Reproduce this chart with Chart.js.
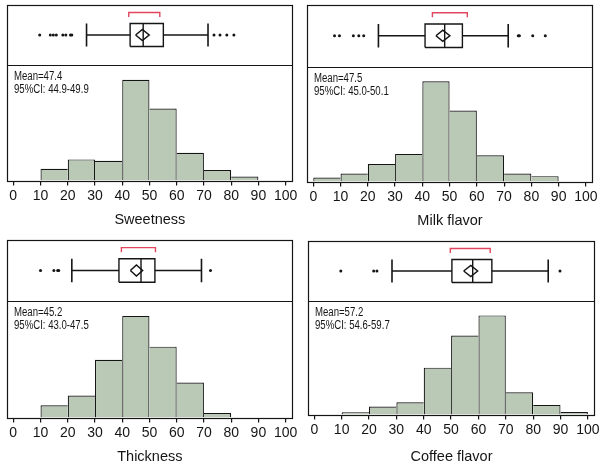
<!DOCTYPE html>
<html>
<head>
<meta charset="utf-8">
<script src="https://cdn.jsdelivr.net/npm/chart.js"></script>
<style>
  body { margin: 0; background: #fff; }
  .panel { position: absolute; }
</style>
</head>
<body>
<div class="panel" style="left:0;top:0"><canvas id="c0" width="300" height="230"></canvas></div>
<div class="panel" style="left:300px;top:0"><canvas id="c1" width="304" height="230"></canvas></div>
<div class="panel" style="left:0;top:230px"><canvas id="c2" width="300" height="237"></canvas></div>
<div class="panel" style="left:300px;top:230px"><canvas id="c3" width="304" height="237"></canvas></div>

<script>
  // histogram bins (lower edges, width 10) and x tick labels
  const binEdges = [0, 10, 20, 30, 40, 50, 60, 70, 80, 90];
  const xTicks = [0, 10, 20, 30, 40, 50, 60, 70, 80, 90, 100];
  const titles = ['Sweetness', 'Milk flavor', 'Thickness', 'Coffee flavor'];

  // relative frequency (%) per bin
  const sweetnessPct = [0, 4.4, 7.9, 7.4, 37.7, 26.9, 10.4, 3.9, 1.5, 0];
  const milkPct = [1.5, 3.0, 6.5, 10.3, 37.4, 26.5, 9.8, 3.0, 2.0, 0];
  const thicknessPct = [0, 4.0, 7.2, 19.0, 33.4, 23.3, 11.5, 1.5, 0, 0];
  const coffeePct = [0, 0.8, 2.8, 4.3, 16.6, 28.0, 35.1, 7.9, 3.4, 0.9];
  const yMax = [43.2, 42.9, 38.3, 40.2];

  // box plot: whisker low, Q1, median, Q3, whisker high
  const sweetnessBox = [26.9, 42.9, 47.7, 55.1, 71.5];
  const milkBox = [23.9, 41.0, 48.2, 54.7, 71.5];
  const thicknessBox = [21.5, 38.8, 46.9, 52.0, 69.1];
  const coffeeBox = [28.4, 50.3, 57.9, 64.9, 85.5];

  const means = [47.4, 47.5, 45.2, 57.2];
  const ciLow = [44.9, 45.0, 43.0, 54.6];
  const ciHigh = [49.9, 50.1, 47.5, 59.7];
  // shortest half bracket
  const shortLow = [42.4, 43.7, 39.7, 49.7];
  const shortHigh = [53.8, 56.5, 52.2, 64.3];

  const sweetnessOut = [9.7, 13.6, 14.7, 15.8, 18.2, 19.3, 21.0, 21.5, 73.7, 75.9, 78.4, 81.0];
  const milkOut = [7.8, 9.6, 14.7, 16.7, 18.5, 75.2, 75.6, 80.5, 85.1];
  const thicknessOut = [10.0, 14.9, 16.3, 16.7, 72.4];
  const coffeeOut = [9.7, 21.7, 22.9, 89.8];

  const pcts = [sweetnessPct, milkPct, thicknessPct, coffeePct];
  const boxes = [sweetnessBox, milkBox, thicknessBox, coffeeBox];
  const outliers = [sweetnessOut, milkOut, thicknessOut, coffeeOut];

  // frame in canvas px: left, top, right, separator, bottom, title centre
  const frames = [
    [7, 5, 293, 65, 180.5, 220],
    [7, 5, 293, 66.5, 181.5, 221],
    [7, 10, 293, 71, 187.5, 226.5],
    [8, 11, 295, 71, 184.5, 226.5]
  ];

  const INK = '#151515';
  const FILL = '#bac8b6';
  const RED = '#e2465e';
  const SANS = '"Liberation Sans", Arial, sans-serif';
  const MID = 30, BOX_H = 11.5, DIA_H = 5.5, BR_TOP = 52.5, BR_BOT = 48;
  const TICK_SIZE = 14;

  const framePlugin = {
    id: 'frame',
    afterDraw(chart) {
      const {ctx, chartArea: a} = chart;
      const sep = Math.round(chart.scales.yb.bottom) + 0.5;
      const i = chart.options.plugins.frame.idx;
      const l = Math.round(a.left) + 0.5, t = Math.round(a.top) + 0.5;
      const r = Math.round(a.right) - 0.5, b = Math.round(a.bottom) + 0.5;
      ctx.save();
      ctx.strokeStyle = INK;
      ctx.lineWidth = 1.2;
      ctx.strokeRect(l, t, r - l, b - t);
      ctx.beginPath();
      ctx.moveTo(l, sep);
      ctx.lineTo(r, sep);
      ctx.stroke();
      // narrow annotation text, like the original
      ctx.fillStyle = INK;
      ctx.font = '12px ' + SANS;
      ctx.textBaseline = 'middle';
      ctx.translate(a.left + 7, sep);
      ctx.scale(0.8, 1);
      ctx.fillText('Mean=' + means[i].toFixed(1), 0, 11);
      ctx.fillText('95%CI: ' + ciLow[i].toFixed(1) + '-' + ciHigh[i].toFixed(1), 0, 24);
      ctx.restore();
    }
  };

  const lineSet = (pts, color, w) => ({
    type: 'line',
    data: pts.map(([x, y]) => ({x, y})),
    yAxisID: 'yb',
    borderColor: color,
    borderWidth: w,
    pointRadius: 0,
    fill: false,
    tension: 0
  });

  const renderPanel = (i) => {
    const [wl, q1, med, q3, wh] = boxes[i];
    const vals = pcts[i];
    const lo = MID - BOX_H, hi = MID + BOX_H;
    const [fl, ft, fr, fs, fb, ty] = frames[i];
    const canvas = document.getElementById('c' + i);
    const H = canvas.height, W = canvas.width;
    const tickPad = 2.5;
    const titleLH = 14.5 * 1.2;
    const padB = H - ty - titleLH / 2;
    const padT = H - fb - (5 + TICK_SIZE * 1.2 + 2 * tickPad + titleLH) - padB;

    const edgeBorder = (ctx) => {
      const k = ctx.dataIndex;
      const h = vals[k];
      const prev = k > 0 ? vals[k - 1] : 0;
      const next = k < vals.length - 1 ? vals[k + 1] : 0;
      return {top: 1.2, bottom: 0, left: prev <= h ? 1.2 : 0, right: next < h ? 1.2 : 0};
    };

    const datasets = [
      {
        type: 'bar',
        data: binEdges.map((e, k) => ({x: e + 5, y: vals[k]})),
        yAxisID: 'y',
        backgroundColor: FILL,
        borderColor: INK,
        borderWidth: edgeBorder,
        borderSkipped: false,
        barPercentage: 1,
        categoryPercentage: 1,
        inflateAmount: 0
      },
      lineSet([[q1, lo], [q3, lo], [q3, hi], [q1, hi], [q1, lo]], INK, 1.4),
      lineSet([[med, lo], [med, hi]], INK, 1.4),
      lineSet([[wl, MID], [q1, MID]], INK, 1.3),
      lineSet([[q3, MID], [wh, MID]], INK, 1.3),
      lineSet([[wl, lo], [wl, hi]], INK, 1.6),
      lineSet([[wh, lo], [wh, hi]], INK, 1.6),
      lineSet([[ciLow[i], MID], [means[i], MID + DIA_H], [ciHigh[i], MID], [means[i], MID - DIA_H], [ciLow[i], MID]], INK, 1.5),
      lineSet([[shortLow[i], BR_BOT], [shortLow[i], BR_TOP], [shortHigh[i], BR_TOP], [shortHigh[i], BR_BOT]], RED, 1.4),
      {
        type: 'line',
        showLine: false,
        data: outliers[i].map(v => ({x: v, y: MID})),
        yAxisID: 'yb',
        pointRadius: 1.5,
        pointBackgroundColor: INK,
        pointBorderWidth: 0
      }
    ];

    new Chart(canvas, {
      type: 'bar',
      data: {datasets},
      plugins: [framePlugin],
      options: {
        responsive: false,
        animation: false,
        layout: {padding: {left: fl, right: W - fr, top: ft, bottom: 0}},
        plugins: {legend: {display: false}, tooltip: {enabled: false}, frame: {idx: i}},
        scales: {
          x: {
            type: 'linear',
            min: -2.3,
            max: 102.6,
            offset: false,
            afterBuildTicks: (s) => { s.ticks = xTicks.map(v => ({value: v})); },
            grid: {display: true, offset: false, drawOnChartArea: false, drawTicks: true, tickLength: 5, color: INK, lineWidth: 1.2},
            border: {display: false},
            ticks: {color: INK, padding: tickPad, maxRotation: 0, autoSkip: false, font: {family: SANS, size: TICK_SIZE}},
            title: {display: true, text: titles[i], color: INK, font: {family: SANS, size: 14.5}, padding: {top: padT, bottom: padB}}
          },
          // histogram below, box plot strip above (stack placed in reverse order)
          y: {
            type: 'linear',
            display: false,
            position: 'left',
            stack: 'v',
            stackWeight: fb - fs,
            min: 0,
            max: yMax[i]
          },
          yb: {
            type: 'linear',
            display: false,
            position: 'left',
            stack: 'v',
            stackWeight: fs - ft,
            min: 0,
            max: 60
          }
        }
      }
    });
  };

  [0, 1, 2, 3].forEach(renderPanel);
</script>
</body>
</html>
